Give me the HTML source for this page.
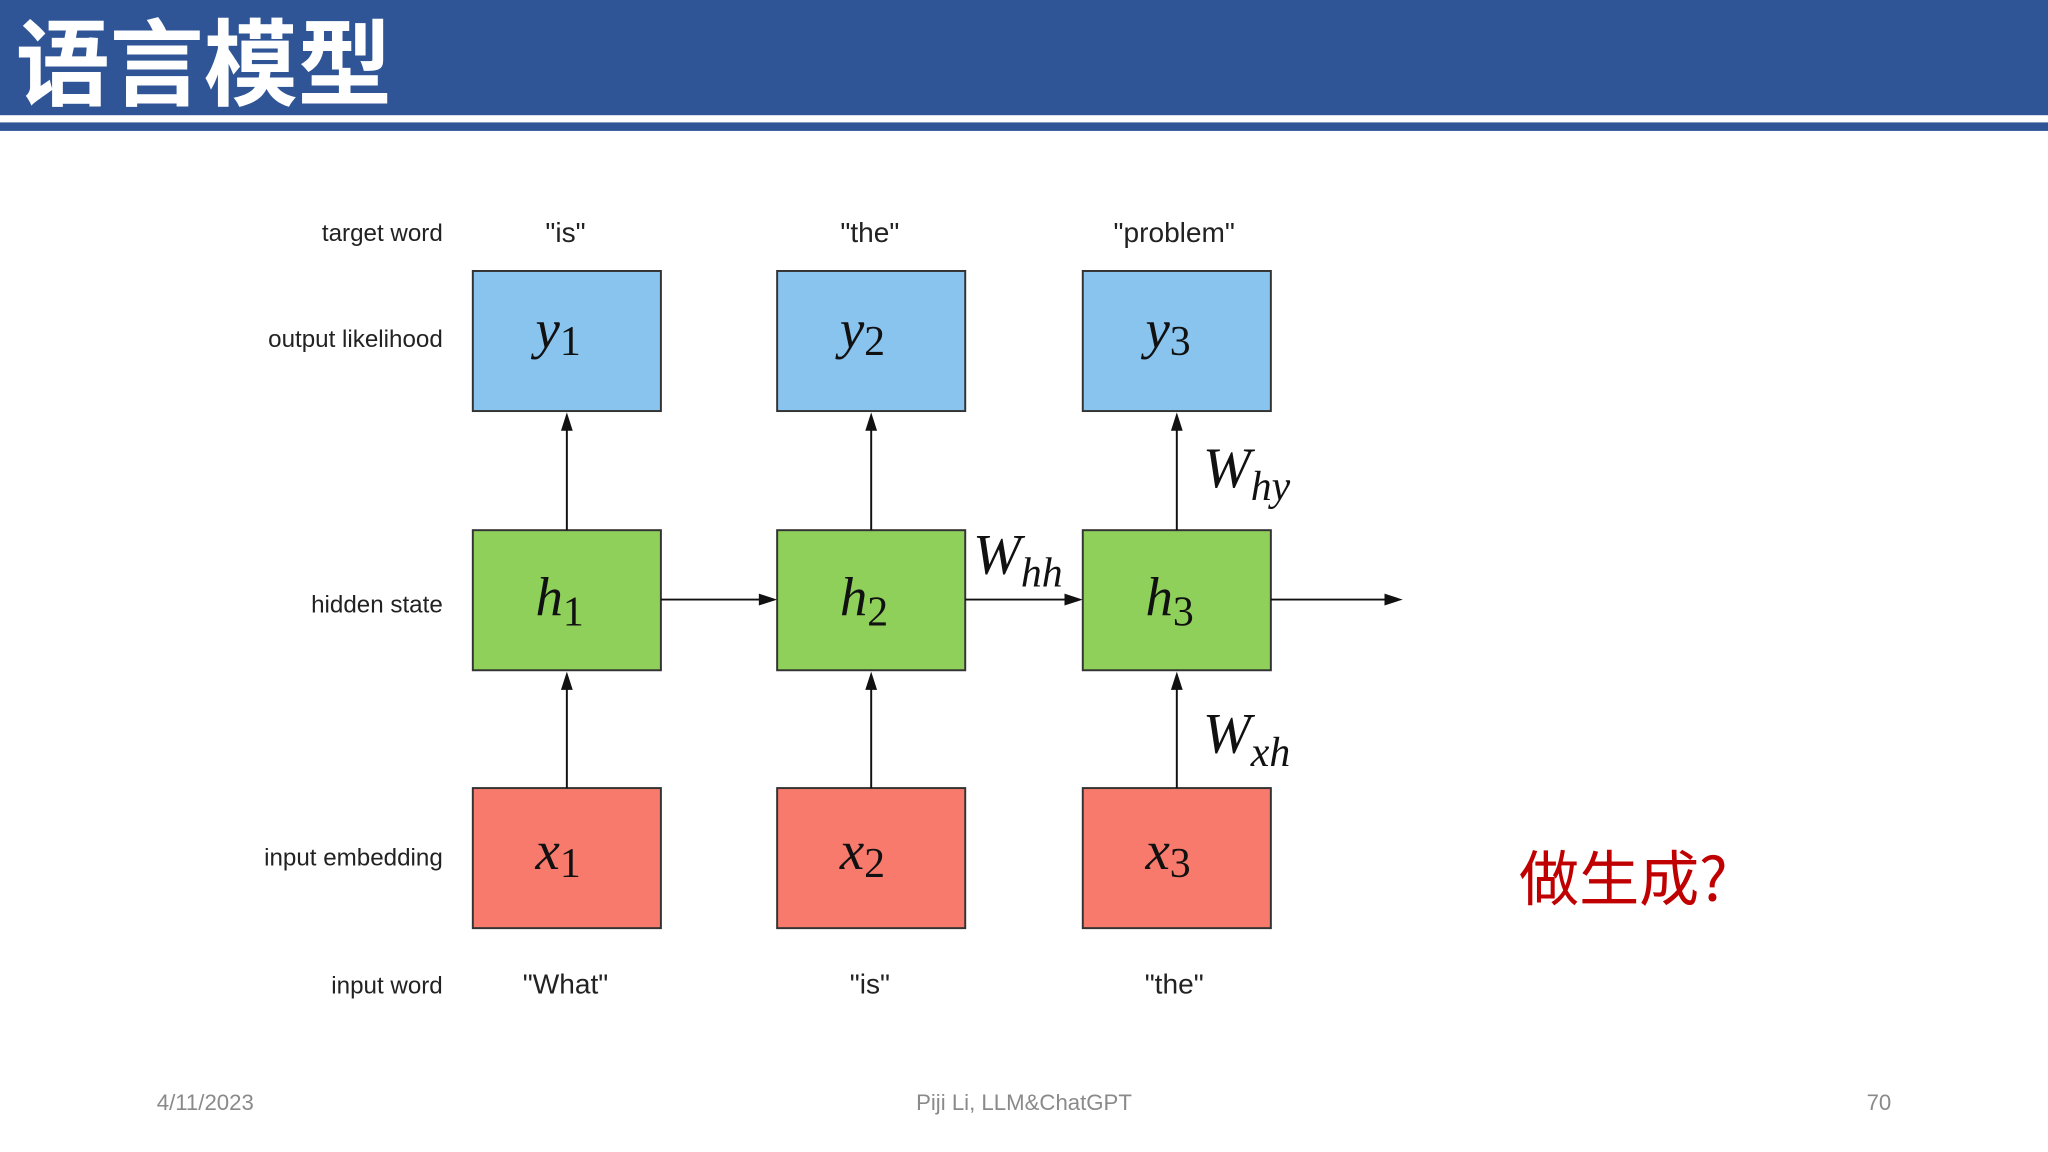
<!DOCTYPE html>
<html><head><meta charset="utf-8"><style>
html,body{margin:0;padding:0;background:#fff;}
svg{display:block;}
</style></head><body>
<svg width="2048" height="1152" viewBox="0 0 1568 880" preserveAspectRatio="none" xmlns="http://www.w3.org/2000/svg">
<rect x="0" y="0" width="1568" height="88" fill="#2F5597"/>
<rect x="0" y="93.5" width="1568" height="6.5" fill="#2F5597"/>
<text x="12" y="75" font-family="'Noto Sans CJK SC',sans-serif" font-weight="bold" font-size="72" fill="#fff">语言模型</text>

<g font-family="'Liberation Sans',sans-serif" font-size="18.5" fill="#222" text-anchor="end">
<text x="339" y="184">target word</text>
<text x="339" y="265">output likelihood</text>
<text x="339" y="468">hidden state</text>
<text x="339" y="661">input embedding</text>
<text x="339" y="759">input word</text>
</g>
<g font-family="'Liberation Sans',sans-serif" font-size="21.5" fill="#222" text-anchor="middle">
<text x="433" y="185">"is"</text>
<text x="666" y="185">"the"</text>
<text x="899" y="185">"problem"</text>
<text x="433" y="759">"What"</text>
<text x="666" y="759">"is"</text>
<text x="899" y="759">"the"</text>
</g>

<g stroke="#333" stroke-width="1.5">
<rect x="362" y="207" width="144" height="107" fill="#89C4EE"/>
<rect x="595" y="207" width="144" height="107" fill="#89C4EE"/>
<rect x="829" y="207" width="144" height="107" fill="#89C4EE"/>
<rect x="362" y="405" width="144" height="107" fill="#8FD05A"/>
<rect x="595" y="405" width="144" height="107" fill="#8FD05A"/>
<rect x="829" y="405" width="144" height="107" fill="#8FD05A"/>
<rect x="362" y="602" width="144" height="107" fill="#F87A6C"/>
<rect x="595" y="602" width="144" height="107" fill="#F87A6C"/>
<rect x="829" y="602" width="144" height="107" fill="#F87A6C"/>
</g>

<g stroke="#111" stroke-width="1.5" fill="none">
<line x1="434" y1="405" x2="434" y2="325"/>
<line x1="667" y1="405" x2="667" y2="325"/>
<line x1="901" y1="405" x2="901" y2="325"/>
<line x1="434" y1="602" x2="434" y2="523"/>
<line x1="667" y1="602" x2="667" y2="523"/>
<line x1="901" y1="602" x2="901" y2="523"/>
<line x1="506" y1="458" x2="585" y2="458"/>
<line x1="739" y1="458" x2="819" y2="458"/>
<line x1="973" y1="458" x2="1063" y2="458"/>
</g>
<g fill="#111">
<path d="M434,315 L429.5,329 L438.5,329 Z"/>
<path d="M667,315 L662.5,329 L671.5,329 Z"/>
<path d="M901,315 L896.5,329 L905.5,329 Z"/>
<path d="M434,513 L429.5,527 L438.5,527 Z"/>
<path d="M667,513 L662.5,527 L671.5,527 Z"/>
<path d="M901,513 L896.5,527 L905.5,527 Z"/>
<path d="M595,458 L581,453.5 L581,462.5 Z"/>
<path d="M829,458 L815,453.5 L815,462.5 Z"/>
<path d="M1074,458 L1060,453.5 L1060,462.5 Z"/>
</g>

<g font-family="'Liberation Serif',serif" font-style="italic" fill="#111">
<text x="410" y="266" font-size="42">y<tspan font-style="normal" font-size="32" dy="5">1</tspan></text>
<text x="643" y="266" font-size="42">y<tspan font-style="normal" font-size="32" dy="5">2</tspan></text>
<text x="877" y="266" font-size="42">y<tspan font-style="normal" font-size="32" dy="5">3</tspan></text>
<text x="410" y="470" font-size="42">h<tspan font-style="normal" font-size="32" dy="8">1</tspan></text>
<text x="643" y="470" font-size="42">h<tspan font-style="normal" font-size="32" dy="8">2</tspan></text>
<text x="877" y="470" font-size="42">h<tspan font-style="normal" font-size="32" dy="8">3</tspan></text>
<text x="410" y="664" font-size="42">x<tspan font-style="normal" font-size="32" dy="6">1</tspan></text>
<text x="643" y="664" font-size="42">x<tspan font-style="normal" font-size="32" dy="6">2</tspan></text>
<text x="877" y="664" font-size="42">x<tspan font-style="normal" font-size="32" dy="6">3</tspan></text>
<text x="921" y="372" font-size="44">W<tspan font-size="32" dy="10">hy</tspan></text>
<text x="745" y="438" font-size="44">W<tspan font-size="32" dy="10">hh</tspan></text>
<text x="921" y="575" font-size="44">W<tspan font-size="32" dy="10">xh</tspan></text>
</g>

<text x="1163" y="688" font-family="'Noto Sans CJK SC',sans-serif" font-size="46" fill="#C00000">做生成?</text>

<g font-family="'Liberation Sans',sans-serif" font-size="17" fill="#8a8a8a">
<text x="120" y="848">4/11/2023</text>
<text x="784" y="848" text-anchor="middle">Piji Li, LLM&amp;ChatGPT</text>
<text x="1448" y="848" text-anchor="end">70</text>
</g>
</svg>
</body></html>
